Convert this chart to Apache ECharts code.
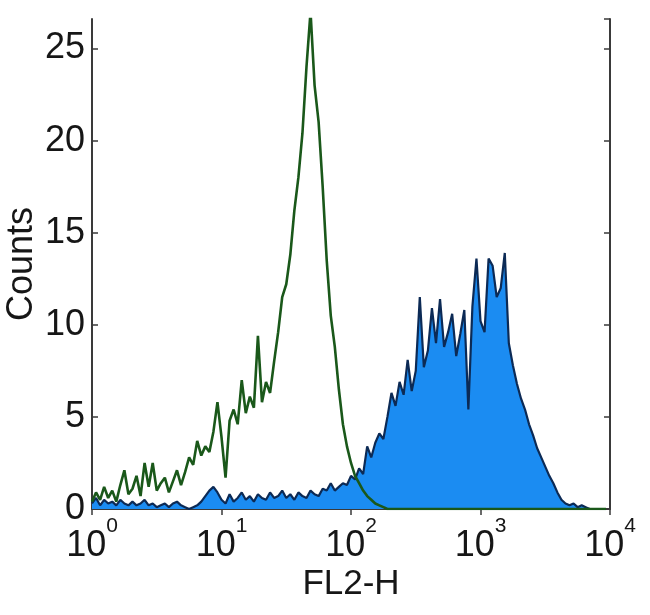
<!DOCTYPE html>
<html>
<head>
<meta charset="utf-8">
<script src="https://cdn.jsdelivr.net/npm/echarts@6/dist/echarts.min.js"></script>
<style>
  html, body { margin: 0; padding: 0; background: #ffffff; }
  #chart { width: 650px; height: 615px; }
</style>
</head>
<body>
<div id="chart"></div>
<script>
// Histogram channels: 128 channels spanning 4 decades (32 channels per decade)
const channelsPerDecade = 32;

// Isotype control (green outline), counts per channel
const controlCounts = [
  0.4, 0.9, 0.5, 1.2, 0.6, 1.0, 0.4, 1.3, 2.1, 0.8,
  1.1, 1.8, 0.7, 2.5, 1.2, 2.5, 1.0, 1.4, 1.7, 0.9,
  1.5, 2.1, 1.3, 2.0, 2.8, 2.4, 3.7, 2.9, 3.4, 3.1,
  4.2, 5.8, 3.9, 1.7, 4.8, 5.4, 4.6, 7.0, 5.2, 6.1,
  5.5, 9.4, 5.8, 6.9, 6.3, 8.0, 9.6, 11.5, 12.2, 13.8,
  16.2, 18.0, 20.4, 24.0, 27.0, 23.0, 21.0, 17.5, 13.5, 10.5,
  8.8, 6.5, 4.6, 3.4, 2.5, 1.8, 1.4, 1.0, 0.7, 0.5,
  0.3, 0.2, 0.1, 0, 0, 0, 0, 0, 0, 0,
  0, 0, 0, 0, 0, 0, 0, 0, 0, 0,
  0, 0, 0, 0, 0, 0, 0, 0, 0, 0,
  0, 0, 0, 0, 0, 0, 0, 0, 0, 0,
  0, 0, 0, 0, 0, 0, 0, 0, 0, 0,
  0, 0, 0, 0, 0, 0, 0, 0
];

// Stained sample (blue filled), counts per channel
const stainedCounts = [
  0.3, 0.6, 0.2, 0.5, 0.3, 0.4, 0.2, 0.5, 0.3, 0.2,
  0.4, 0.2, 0.3, 0.5, 0.2, 0.3, 0.1, 0.2, 0.3, 0.1,
  0.3, 0.4, 0.2, 0.1, 0.0, 0.1, 0.2, 0.4, 0.7, 1.0,
  1.2, 0.9, 0.5, 0.3, 0.8, 0.4, 0.6, 0.9, 0.5, 0.7,
  0.4, 0.8, 0.6, 0.5, 0.9, 0.6, 0.7, 1.0, 0.6, 0.8,
  0.5, 0.9, 0.7, 0.6, 1.0, 0.8, 0.7, 1.1, 1.0, 1.4,
  1.0, 1.2, 1.4, 1.3, 1.8, 1.6, 2.2, 1.9, 3.4, 2.8,
  3.6, 4.1, 3.8, 5.0, 6.3, 5.6, 6.9, 6.2, 8.1, 6.4,
  7.5, 11.5, 7.7, 8.6, 10.9, 9.0, 11.4, 8.8, 9.6, 10.6,
  8.3, 9.5, 10.8, 5.4, 11.0, 13.6, 10.2, 9.6, 13.6, 13.2,
  11.5, 12.0, 13.9, 9.0, 7.8, 6.8, 6.0, 5.4, 4.6, 4.0,
  3.3, 2.8, 2.3, 1.8, 1.4, 0.9, 0.5, 0.3, 0.2, 0.3,
  0.1, 0.2, 0.1, 0, 0, 0, 0, 0
];

const yTicks = [0, 5, 10, 15, 20, 25];
const xDecades = [0, 1, 2, 3, 4];
const xTitle = 'FL2-H';
const yTitle = 'Counts';

// channel -> fluorescence intensity (log scale position of each channel)
const channelValue = i => Math.pow(10, i / channelsPerDecade);
const stainedData = stainedCounts.map((c, i) => [channelValue(i), c]);
const controlData = controlCounts.map((c, i) => [channelValue(i), c]);

const FONT = '"Liberation Sans", Arial, sans-serif';
const TXT = '#161616';
const AXIS = '#3a3a3a';

const chart = echarts.init(document.getElementById('chart'), null, { renderer: 'canvas' });

const commonX = {
  type: 'log', logBase: 10, min: 1, max: 10000,
  splitLine: { show: false },
  axisLine: { show: true, lineStyle: { color: AXIS, width: 2 } },
  axisTick: { show: true, inside: true, length: 6, lineStyle: { color: AXIS, width: 1.5 } },
  minorTick: { show: false }
};
const commonY = {
  type: 'value', min: 0, max: 26.6, interval: 5,
  splitLine: { show: false },
  axisLine: { show: true, lineStyle: { color: AXIS, width: 2 } },
  axisTick: { show: true, inside: true, length: 6, lineStyle: { color: AXIS, width: 1.5 } }
};

chart.setOption({
  animation: false,
  backgroundColor: '#ffffff',
  grid: { left: 92, right: 40, top: 19, bottom: 106, containLabel: false, outerBoundsMode: 'none' },
  xAxis: [
    Object.assign({}, commonX, {
      position: 'bottom',
      name: xTitle, nameLocation: 'middle', nameGap: 58, nameMoveOverlap: false,
      nameTextStyle: { fontFamily: FONT, fontSize: 35, color: TXT },
      axisLabel: {
        margin: 7,
        formatter: v => {
          const e = Math.round(Math.log10(v));
          return xDecades.indexOf(e) >= 0 ? '{b|10}{s|' + e + '}' : '';
        },
        rich: {
          b: { fontFamily: FONT, fontSize: 36, color: TXT, padding: [12, 0, 0, 0] },
          s: { fontFamily: FONT, fontSize: 21, color: TXT, verticalAlign: 'top' }
        }
      }
    }),
    Object.assign({}, commonX, {
      position: 'top',
      axisLabel: { show: false }
    })
  ],
  yAxis: [
    Object.assign({}, commonY, {
      position: 'left',
      name: yTitle, nameLocation: 'middle', nameGap: 52, nameRotate: 90, nameMoveOverlap: false,
      nameTextStyle: { fontFamily: FONT, fontSize: 36, color: TXT },
      axisLabel: {
        margin: 7, fontFamily: FONT, fontSize: 36, color: TXT,
        showMaxLabel: false,
        formatter: v => (yTicks.indexOf(v) >= 0 ? String(v) : '')
      }
    }),
    Object.assign({}, commonY, {
      position: 'right',
      axisLabel: { show: false }
    })
  ],
  series: [
    {
      name: 'Stained',
      type: 'line',
      data: stainedData,
      xAxisIndex: 0, yAxisIndex: 0,
      showSymbol: false, symbol: 'none',
      smooth: false,
      clip: true,
      lineStyle: { color: '#0c2a55', width: 2.2 },
      areaStyle: { color: '#1b8cf2', opacity: 1 },
      z: 2
    },
    {
      name: 'Control',
      type: 'line',
      data: controlData,
      xAxisIndex: 0, yAxisIndex: 0,
      showSymbol: false, symbol: 'none',
      smooth: false,
      clip: true,
      lineStyle: { color: '#1a581a', width: 2.6 },
      z: 3
    }
  ]
});
</script>
</body>
</html>
